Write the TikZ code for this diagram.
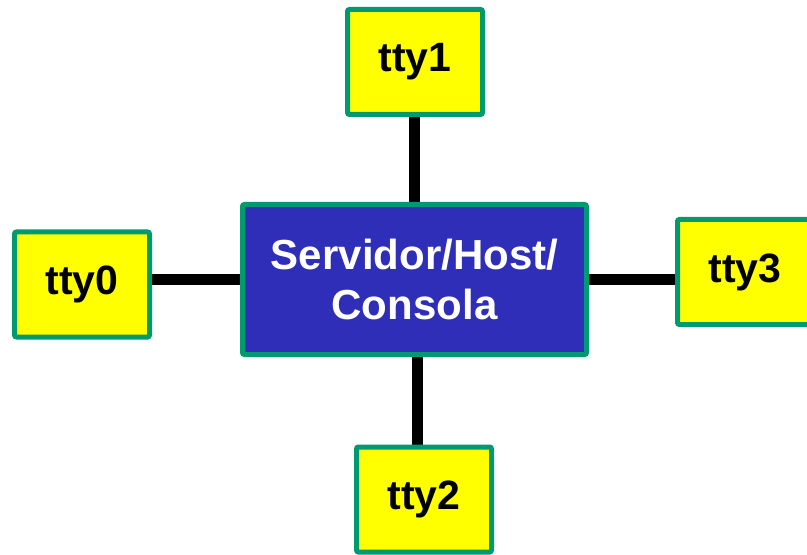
\documentclass[tikz,border=0pt]{standalone}
\usepackage{fontspec}
\setmainfont{Liberation Sans}
\usetikzlibrary{backgrounds}

\definecolor{ttyyellow}{RGB}{255,255,0}
\definecolor{hostblue}{RGB}{46,46,184}
\definecolor{rimgreen}{RGB}{0,153,112}

\begin{document}
\begin{tikzpicture}[x=0.5pt,y=-0.5pt,
  tty/.style={draw=rimgreen,line width=2.5pt,fill=ttyyellow,rounded corners=1pt,
    minimum width=67.5pt,minimum height=52.5pt,inner sep=0pt,
    font=\fontsize{20.5}{24}\bfseries},
  host/.style={draw=rimgreen,line width=2.5pt,fill=hostblue,rounded corners=1pt,
    minimum width=172pt,minimum height=75pt,inner sep=0pt,align=center,
    text=white,font=\fontsize{21}{25}\selectfont\bfseries},
  wire/.style={line width=5.5pt}]
\useasboundingbox (0,0) rectangle (807,555);

\node[host] (srv) at (414.5,279.5) {Servidor/Host/\\Consola};

\node[tty] (tty1) at (415,62) {tty1};
\node[tty] (tty0) at (82,284.5) {tty0};
\node[tty] (tty3) at (745,272) {tty3};
\node[tty] (tty2) at (424,499.5) {tty2};

\begin{pgfonlayer}{background}
\draw[wire] (srv.north) -- (srv.north |- tty1.south);
\draw[wire] (srv.west) -- (srv.west -| tty0.east);
\draw[wire] (srv.east) -- (srv.east -| tty3.west);
\draw[wire] ([xshift=1.25pt]srv.south) -- ([xshift=1.25pt]srv.south |- tty2.north);
\end{pgfonlayer}
\end{tikzpicture}
\end{document}
